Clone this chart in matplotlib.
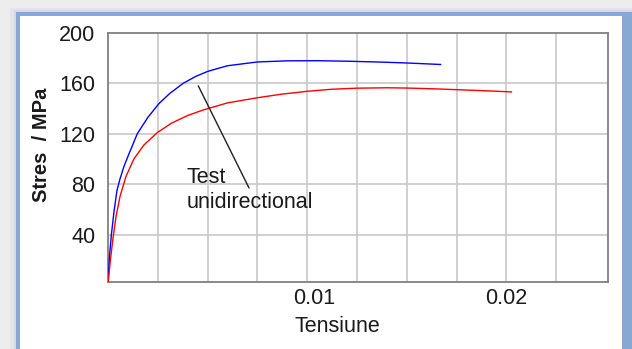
import matplotlib
matplotlib.use('Agg')
import matplotlib.pyplot as plt
import matplotlib.transforms as mtransforms
from matplotlib.patches import Rectangle

plt.rcParams['font.family'] = ['Liberation Sans', 'DejaVu Sans']

# values
blue_strain = [0, 0.00003, 0.00008, 0.00017, 0.0003, 0.00045, 0.0006, 0.0008, 0.001,
               0.00147, 0.002, 0.00256, 0.0031, 0.00377, 0.0044, 0.005, 0.006, 0.0075,
               0.009, 0.0105, 0.012, 0.0135, 0.015, 0.0167]
blue_stress = [0, 10, 24, 40, 58, 75, 84, 94, 102,
               120, 133, 144, 152, 160, 165.5, 169.5, 174, 177,
               177.9, 178, 177.6, 177, 176.2, 175]

red_strain = [0, 0.00005, 0.00013, 0.00025, 0.0004, 0.0006, 0.0009, 0.0013, 0.0018,
              0.00248, 0.0032, 0.004, 0.0048, 0.006, 0.0075, 0.0087, 0.01, 0.0112,
              0.0125, 0.014, 0.015, 0.0165, 0.0175, 0.019, 0.02, 0.02025]
red_stress = [0, 9, 21, 37, 54, 70, 86, 100, 111,
              121, 128.5, 134.5, 139, 144.5, 148.6, 151.4, 153.7, 155.3,
              156.2, 156.5, 156.3, 155.6, 155, 154.1, 153.4, 153.2]

x_gridlines = [i * 0.0025 for i in range(11)]
y_gridlines = [40, 80, 120, 160, 200]
x_ticks = [0.01, 0.02]
x_ticklabels = ['0.01', '0.02']

W, H = 632, 349
fig = plt.figure(figsize=(W / 100, H / 100), dpi=100)
fig.patch.set_facecolor('#ededed')

# framed white panel with blue border
def px_rect(x0, y0, x1, y1, **kw):
    return Rectangle((x0 / W, 1 - y1 / H), (x1 - x0) / W, (y1 - y0) / H,
                     transform=fig.transFigure, zorder=-5, **kw)

fig.add_artist(px_rect(10, 8, 632, 360, facecolor='#e2e4e7', edgecolor='none'))
fig.add_artist(px_rect(14, 10, 632, 360, facecolor='#d3dae3', edgecolor='none'))
fig.add_artist(px_rect(16, 12, 632, 360, facecolor='#87a8d3', edgecolor='none'))
fig.add_artist(px_rect(20, 16, 622, 360, facecolor='white', edgecolor='none'))

ax = fig.add_axes([108 / W, 1 - 282 / H, 500 / W, 249 / H])
ax.set_xlim(0, 0.0251)
ax.set_ylim(2.3, 200)

for x in x_gridlines[1:-1]:
    ax.axvline(x, color='#c8c8c8', lw=1.2, zorder=1)
for y in y_gridlines[:-1]:
    ax.axhline(y, color='#c8c8c8', lw=1.2, zorder=1)

ax.plot(blue_strain, blue_stress, color='#0000ff', lw=1.0, zorder=3)
ax.plot(red_strain, red_stress, color='#ff0000', lw=1.0, zorder=3)

ax.set_yticks(y_gridlines)
ax.set_xticks(x_ticks)
ax.set_xticklabels(x_ticklabels)
ax.tick_params(length=0, labelsize=15.5, colors='#1a1a1a')
ax.tick_params(axis='y', pad=9)
ax.tick_params(axis='x', pad=4)
# first x label sits a little right of its gridline in the original
lbl = ax.get_xticklabels()[0]
lbl.set_transform(lbl.get_transform() + mtransforms.ScaledTranslation(7 / 100, 0, fig.dpi_scale_trans))
for s in ax.spines.values():
    s.set_color('#808080')
    s.set_linewidth(1.3)

ax.text(0.00395, 94, 'Test\nunidirectional', fontsize=15.5, color='#1a1a1a',
        ha='left', va='top', linespacing=1.3, zorder=4)
ax.annotate('', xy=(0.00447, 160), xytext=(0.00714, 75),
            arrowprops=dict(arrowstyle='-', color='#202020', lw=1.0), zorder=4)

fig.text(337 / W, 1 - 327 / H, 'Tensiune', fontsize=15.5, color='#1a1a1a',
         ha='center', va='center')
fig.text(42 / W, 1 - 144.5 / H, 'Stres  / MPa', fontsize=14.5, color='#1a1a1a',
         ha='center', va='center', rotation=90, fontweight='bold')

fig.savefig('out.png', dpi=100, facecolor=fig.get_facecolor())
